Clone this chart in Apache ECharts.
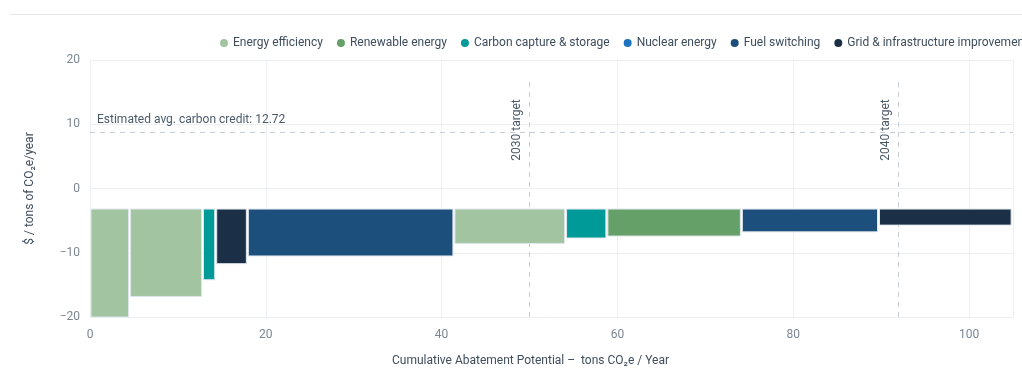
<!DOCTYPE html>
<html>
<head>
<meta charset="utf-8">
<script src="https://cdn.jsdelivr.net/npm/echarts@6/dist/echarts.min.js"></script>
<style>
  html, body { margin: 0; padding: 0; background: #fff; }
  #chart { width: 1022px; height: 372px; }
</style>
</head>
<body>
<div id="chart"></div>
<script>
// levers, left to right
const leverTypes = [
  'Energy efficiency', 'Energy efficiency', 'Carbon capture & storage',
  'Grid & infrastructure improvement', 'Fuel switching', 'Energy efficiency',
  'Carbon capture & storage', 'Renewable energy', 'Fuel switching',
  'Grid & infrastructure improvement'
]
const leverWidths = [4.5, 8.3, 1.5, 3.6, 23.5, 12.7, 4.7, 15.3, 15.6, 15.2] // tons CO2e / year
const leverCosts = [-20, -16.8, -14.2, -11.7, -10.5, -8.55, -7.7, -7.4, -6.75, -5.7] // $ / ton
const barTop = -3.2

const categories = [
  'Energy efficiency', 'Renewable energy', 'Carbon capture & storage',
  'Nuclear energy', 'Fuel switching', 'Grid & infrastructure improvement'
]
const categoryColors = ['#a2c4a0', '#65a068', '#009b98', '#1a73c0', '#1d4f7c', '#1b3047']

const creditLine = 8.7
const creditLabel = '12.72'
const targets = [{ name: '2030 target', x: 50 }, { name: '2040 target', x: 92 }]
const targetTop = 17

const yTicks = { min: -20, max: 20, interval: 10 }
const xTicks = { min: 0, max: 105, interval: 20 }

// cumulative start/end for every lever
let acc = 0
const levers = leverWidths.map((w, i) => {
  const item = { type: leverTypes[i], value: [acc, acc + w, barTop, leverCosts[i]] }
  acc += w
  return item
})

const textColor = '#3f4d5c'
const tickColor = '#7b8692'
const lineColor = '#edf0f3'

const renderBar = (params, api) => {
  const p0 = api.coord([api.value(0), api.value(2)])
  const p1 = api.coord([api.value(1), api.value(3)])
  return {
    type: 'rect',
    shape: { x: p0[0] + 1, y: p0[1], width: p1[0] - p0[0] - 2, height: p1[1] - p0[1] },
    style: { fill: api.visual('color'), stroke: '#dfe6ed', lineWidth: 1 }
  }
}

const series = categories.map((name, ci) => ({
  name,
  type: 'custom',
  z: 3,
  renderItem: renderBar,
  encode: { x: [0, 1], y: [2, 3] },
  itemStyle: { color: categoryColors[ci] },
  data: levers.filter(l => l.type === name).map(l => l.value)
}))

// reference lines sit behind the bars
const dashed = { color: '#c5ccd4', type: [5, 5], width: 1 }
const refLabel = { color: '#4b5a69', fontSize: 12, fontFamily: 'Roboto' }
series.push({
  name: 'refs',
  type: 'line',
  z: 1,
  data: [],
  markLine: {
    silent: true,
    symbol: 'none',
    animation: false,
    z: 1,
    data: [
      [
        {
          coord: [xTicks.min, creditLine],
          lineStyle: dashed,
          label: {
            ...refLabel,
            position: 'insideStartTop',
            distance: [7, 7],
            formatter: 'Estimated avg. carbon credit: ' + creditLabel
          }
        },
        { coord: [xTicks.max, creditLine] }
      ],
      ...targets.map(t => [
        {
          coord: [t.x, yTicks.min],
          lineStyle: dashed,
          label: {
            ...refLabel,
            position: 'insideEndTop',
            distance: [20, 7],
            formatter: t.name
          }
        },
        { coord: [t.x, targetTop] }
      ])
    ]
  }
})

const myChart = echarts.init(document.getElementById('chart'))
myChart.setOption({
  animation: false,
  textStyle: { fontFamily: 'Roboto' },
  graphic: [{
    type: 'line',
    shape: { x1: 10, y1: 14.5, x2: 1022, y2: 14.5 },
    style: { stroke: '#e6e8eb', lineWidth: 1 }
  }],
  legend: {
    left: 215,
    top: 32,
    width: 1200,
    icon: 'circle',
    itemWidth: 8,
    itemHeight: 8,
    itemGap: 14,
    textStyle: { color: textColor, fontSize: 12 },
    data: categories
  },
  grid: { left: 90, right: 9, top: 60, bottom: 49 },
  xAxis: {
    type: 'value',
    min: xTicks.min,
    max: xTicks.max,
    interval: xTicks.interval,
    name: 'Cumulative Abatement Potential –  tons CO₂e / Year',
    nameLocation: 'middle',
    nameGap: 38,
    nameTextStyle: { color: textColor, fontSize: 12, padding: [0, 42, 0, 0] },
    axisLine: { show: false },
    axisTick: { show: false },
    axisLabel: { color: tickColor, fontSize: 12, margin: 12, showMaxLabel: false },
    splitLine: { lineStyle: { color: lineColor } }
  },
  yAxis: {
    type: 'value',
    min: yTicks.min,
    max: yTicks.max,
    interval: yTicks.interval,
    name: '$ / tons of CO₂e/year',
    nameLocation: 'middle',
    nameGap: 54,
    nameTextStyle: { color: textColor, fontSize: 12 },
    axisLine: { show: false },
    axisTick: { show: false },
    axisLabel: {
      color: tickColor,
      fontSize: 12,
      margin: 10,
      formatter: v => String(v).replace('-', '−')
    },
    splitLine: { lineStyle: { color: lineColor } }
  },
  series
})
</script>
</body>
</html>
